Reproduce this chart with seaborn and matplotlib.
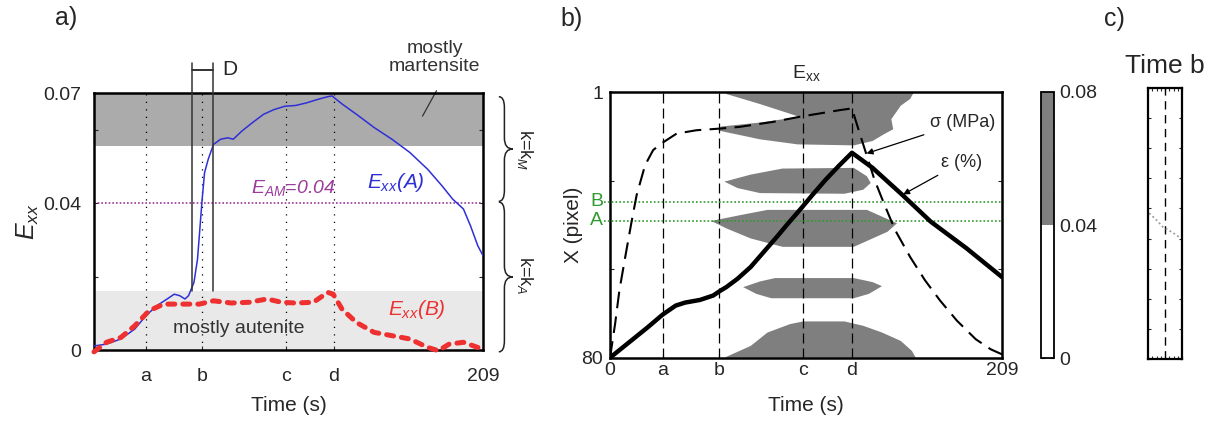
import numpy as np
import matplotlib
matplotlib.use("Agg")
import matplotlib.pyplot as plt
import seaborn as sns
from matplotlib.path import Path
from matplotlib.patches import PathPatch
from matplotlib.colors import ListedColormap, BoundaryNorm
from matplotlib.cm import ScalarMappable
from matplotlib.ticker import FixedLocator, MultipleLocator, NullFormatter

# ---------------- data ----------------
event_labels = ["a", "b", "c", "d"]
event_times = [28, 58, 103, 129]
t_end = 209

# panel a : E_xx at point A (blue) and B (red)
tA = [0, 6.7, 14.4, 21.9, 27.8, 33.6, 39.3, 43.1, 46, 48.9, 50.8, 53.7, 55.6, 57,
      58.1, 59.4, 61.4, 64.2, 68, 71.9, 74.8, 79.6, 85.3, 91.1, 96.8, 102.6, 108.3,
      114.1, 119.8, 125.6, 127.9, 133.3, 141, 150.5, 160.1, 169.7, 179.3, 187,
      192.7, 198.5, 202.3, 206.2, 209]
eA = [0.0011, 0.0016, 0.003, 0.0057, 0.0093, 0.012, 0.0139, 0.0152, 0.0148, 0.0139,
      0.0148, 0.0184, 0.0247, 0.0338, 0.041, 0.0483, 0.052, 0.056, 0.0574, 0.0578,
      0.0574, 0.0597, 0.062, 0.0642, 0.0655, 0.0664, 0.0666, 0.0673, 0.0682, 0.069,
      0.0692, 0.067, 0.0642, 0.0606, 0.0574, 0.0538, 0.0492, 0.0447, 0.0411, 0.0384,
      0.0338, 0.0284, 0.0257]
tB = [0, 6.7, 14.4, 21.9, 29.6, 37.4, 45.1, 56.6, 64.2, 73.8, 83.4, 93, 100.7, 108.3,
      117.9, 125.6, 128.5, 133.3, 141, 150.5, 160.1, 169.7, 179.3, 185, 190.8, 198.5,
      206.2, 209]
eB = [-0.0005, 0.0021, 0.0034, 0.0066, 0.0107, 0.0125, 0.0125, 0.0125, 0.0134, 0.0128,
      0.013, 0.0139, 0.013, 0.0128, 0.013, 0.0157, 0.0152, 0.0111, 0.0075, 0.0048,
      0.0039, 0.003, 0.0007, -0.0002, 0.0016, 0.0021, 0.0007, 0.0003]
E_AM = 0.04
martensite_band = (0.0555, 0.07)
austenite_band = (0.0, 0.016)
D_window = (52.5, 64.0)

# panel b : stress / strain curves (in row units) and thresholded E_xx map
eps_t = [0, 10, 20, 28, 35, 40, 48, 55, 59, 62, 68, 75, 82, 89, 95, 100, 108, 115,
         122, 129, 140, 156, 171, 190, 209]
eps_r = [80, 75.5, 71, 67.2, 64.5, 63.6, 62.8, 61.5, 60, 59, 56.5, 53, 48.5, 44, 40,
         36.8, 31.5, 27, 22.9, 19, 23.5, 31.6, 39.5, 47.4, 56]
sig_t = [0, 2.7, 5, 8, 11.5, 14.2, 18.7, 23, 27.5, 35.5, 46, 58.6, 69, 87, 101, 122.6,
         129, 133, 137, 141, 146, 152, 160, 168, 176, 185, 195, 203, 209]
sig_r = [80, 70, 60, 50.4, 39.5, 31.6, 22.7, 18.2, 16.2, 13.3, 12.3, 11.8, 11.3, 9.8,
         8.3, 6.3, 5.8, 13, 20, 27, 34, 42, 50, 57, 63, 69, 74.5, 77.5, 79]
row_B = 33.6
row_A = 39.3
band1_t = [62, 162, 160, 155, 150, 151, 146, 140, 130, 100, 80, 58, 59, 80, 101, 80, 62]
band1_r = [1, 1, 3, 5, 9, 12, 13.5, 15.5, 16.8, 16.5, 15, 12.4, 11.2, 10, 8.3, 4.5, 1.5]
band2_t = [61, 75, 92, 130, 137, 139, 135, 125, 80, 68]
band2_r = [27.6, 25.5, 23.7, 23.5, 26, 28, 30, 31.2, 31, 29.5]
band3_t = [54, 70, 84, 137, 145, 153, 148, 138, 130, 92, 75, 62]
band3_r = [39.3, 37.5, 36, 36, 38, 40, 42.5, 45, 47, 47, 44.5, 41.5]
band4_t = [71, 80, 88, 130, 140, 145, 138, 130, 86, 78]
band4_r = [59, 57.3, 56.3, 56.3, 57.5, 58.7, 61, 62.3, 62.3, 61]
band5_t = [61, 75, 84, 96, 103, 125, 135, 145, 155, 161, 163]
band5_r = [80, 76.5, 72.5, 70, 69.2, 69.2, 70.5, 72.5, 75, 78, 80]
cbar_bounds = [0, 0.04, 0.08]

# panel c : profile at time b
c_strain = [0.003, 0.02, 0.035, 0.042, 0.06, 0.077]
c_row = [37.5, 39.5, 41.5, 42.0, 43.3, 44.8]
c_threshold = 0.04

# ---------------- style ----------------
sns.set_theme(style="ticks")
plt.rcParams["font.family"] = ["Liberation Sans", "DejaVu Sans"]
plt.rcParams["mathtext.fontset"] = "custom"
plt.rcParams["mathtext.rm"] = "Liberation Sans"
plt.rcParams["mathtext.it"] = "Liberation Sans:italic"
plt.rcParams["axes.linewidth"] = 1.6
plt.rcParams["axes.edgecolor"] = "black"

W, H = 1216, 423
fig = plt.figure(figsize=(W / 100, H / 100), dpi=100)


def box(x0, y0, x1, y1):
    return [x0 / W, 1 - y1 / H, (x1 - x0) / W, (y1 - y0) / H]


axA = fig.add_axes(box(94, 93, 483, 350))
axB = fig.add_axes(box(610, 92.3, 1002, 357.7))
cax = fig.add_axes(box(1041, 92, 1054, 358))
axC = fig.add_axes(box(1148, 88, 1182, 359))

gray_dark = "#ababab"
gray_light = "#e9e9e9"
map_gray = "#7f7f7f"
green = "#2f9a2f"

# ---------------- panel a ----------------
axA.axhspan(*martensite_band, color=gray_dark, lw=0, zorder=0)
axA.axhspan(*austenite_band, color=gray_light, lw=0, zorder=0)
for t in event_times:
    axA.axvline(t, color="black", lw=0.9, ls=(0, (1, 5)), zorder=1)
axA.axhline(E_AM, color="#9b3b9b", lw=1.2, ls=(0, (1, 1.2)), zorder=1)
sns.lineplot(x=tA, y=eA, ax=axA, color="#2f2fd8", lw=1.1, sort=False, estimator=None, zorder=3)
sns.lineplot(x=tB, y=eB, ax=axA, color="#ee3030", lw=3.6, sort=False, estimator=None,
             linestyle=(0, (1.4, 1.6)), dash_capstyle="round", clip_on=False, zorder=4)
axA.set_xlim(0, t_end)
axA.set_ylim(0, 0.07)

# D window marker
for t in D_window:
    axA.plot([t, t], [austenite_band[1], 0.0781], color="#333333", lw=1.1, clip_on=False, zorder=5)
axA.plot(list(D_window), [0.0762, 0.0762], color="#222222", lw=1.3, clip_on=False)
axA.text(73, 0.0763, "D", fontsize=15, ha="center", va="center")

axA.set_xticks(event_times + [t_end])
axA.set_xticklabels(event_labels + [str(t_end)])
axA.set_yticks([0, 0.04, 0.07])
axA.set_yticklabels(["0", "0.04", "0.07"])
axA.yaxis.set_minor_locator(FixedLocator([0.02, 0.06]))
axA.tick_params(axis="both", which="both", direction="in", labelsize=14, length=3, width=0.8,
                top=False, right=True)
axA.tick_params(axis="x", pad=13)
axA.tick_params(axis="y", pad=9)
axA.set_xlabel("Time (s)", fontsize=15)
axA.xaxis.set_label_coords(0.5, -0.18)
axA.set_ylabel("$E_{xx}$", fontsize=18)
axA.yaxis.set_label_coords(-0.135, 0.5)
for s in axA.spines.values():
    s.set_linewidth(1.8)

axA.text(162, 0.0455, "$E_{xx}$(A)", color="#2f2fd8", fontsize=15, style="italic",
         ha="center", va="center")
axA.text(173.5, 0.0111, "$E_{xx}$(B)", color="#ee3030", fontsize=15, style="italic",
         ha="center", va="center")
axA.text(107, 0.0442, "$E_{AM}$=0.04", color="#9b3b9b", fontsize=14, style="italic",
         ha="center", va="center")
axA.text(78, 0.0058, "mostly autenite", color="#333333", fontsize=14, ha="center", va="center")
axA.text(183, 0.0797, "mostly\nmartensite", color="#333333", fontsize=14, ha="center",
         va="center", linespacing=1.05)
axA.plot([176.5, 184], [0.0637, 0.0706], color="#333333", lw=0.9, clip_on=False)


def brace(ax, x0, xm, xt, y0, y1, h):
    ym = 0.5 * (y0 + y1)
    verts = [(x0, y1), (xm, y1), (xm, y1 - h), (xm, ym + h), (xm, ym), (xt, ym),
             (xm, ym), (xm, ym - h), (xm, y0 + h), (xm, y0), (x0, y0)]
    codes = [Path.MOVETO, Path.CURVE3, Path.CURVE3, Path.LINETO, Path.CURVE3, Path.CURVE3,
             Path.CURVE3, Path.CURVE3, Path.LINETO, Path.CURVE3, Path.CURVE3]
    ax.add_patch(PathPatch(Path(verts, codes), fill=False, lw=1.1, color="#222222",
                           clip_on=False))


brace(axA, 217.5, 220.5, 225, 0.0405, 0.069, 0.003)
brace(axA, 217.5, 220.5, 225, -0.0005, 0.0403, 0.003)
axA.text(231.5, 0.0547, "k=k$_M$", rotation=-90, fontsize=13, ha="center", va="center")
axA.text(231.5, 0.0205, "k=k$_A$", rotation=-90, fontsize=13, ha="center", va="center")

# ---------------- panel b ----------------
for bt, br in [(band1_t, band1_r), (band2_t, band2_r), (band3_t, band3_r),
               (band4_t, band4_r), (band5_t, band5_r)]:
    axB.fill(bt, br, color=map_gray, lw=0, zorder=1)
for t in event_times:
    axB.axvline(t, color="black", lw=0.9, ls=(0, (8, 4)), zorder=2)
for r in (row_B, row_A):
    axB.plot([-3, t_end], [r, r], color=green, lw=1.2, ls=(0, (1, 1.3)), clip_on=False, zorder=3)
axB.text(-7, row_B, "B", color=green, fontsize=14, ha="center", va="center")
axB.text(-7, row_A, "A", color=green, fontsize=14, ha="center", va="center")
sns.lineplot(x=sig_t, y=sig_r, ax=axB, color="black", lw=1.5, sort=False, estimator=None,
             linestyle=(0, (8, 4)), zorder=4)
sns.lineplot(x=eps_t, y=eps_r, ax=axB, color="black", lw=3.2, sort=False, estimator=None,
             zorder=5)
axB.set_xlim(0, t_end)
axB.set_ylim(80, 1)
axB.set_xticks([0] + event_times + [t_end])
axB.set_xticklabels(["0"] + event_labels + [str(t_end)])
axB.set_yticks([1, 80])
axB.set_yticklabels(["1", "80"])
axB.yaxis.set_minor_locator(FixedLocator([27.3, 53.7]))
axB.tick_params(axis="both", which="both", direction="in", labelsize=14, length=3, width=0.8,
                right=True)
axB.tick_params(axis="x", pad=3)
axB.tick_params(axis="y", pad=5)
axB.set_xlabel("Time (s)", fontsize=15)
axB.xaxis.set_label_coords(0.5, -0.145)
axB.set_ylabel("X (pixel)", fontsize=15)
axB.yaxis.set_label_coords(-0.07, 0.5)
axB.set_title(r"$\mathrm{E}_{\mathrm{xx}}$", fontsize=14, pad=10)
for s in axB.spines.values():
    s.set_linewidth(1.8)

axB.annotate("σ (MPa)", xy=(136.8, 19.2), xytext=(170.5, 9.9), fontsize=13, ha="left",
             va="center", arrowprops=dict(arrowstyle="-|>", lw=0.9, color="black",
                                          mutation_scale=9, shrinkA=2, shrinkB=0))
axB.annotate("ε (%)", xy=(156.3, 31.4), xytext=(176.5, 21.8), fontsize=13, ha="left",
             va="center", arrowprops=dict(arrowstyle="-|>", lw=0.9, color="black",
                                          mutation_scale=9, shrinkA=2, shrinkB=0))

# ---------------- colour bar ----------------
sm = ScalarMappable(norm=BoundaryNorm(cbar_bounds, 2), cmap=ListedColormap(["white", map_gray]))
cb = fig.colorbar(sm, cax=cax, spacing="proportional", ticks=cbar_bounds)
cb.ax.set_yticklabels(["0", "0.04", "0.08"])
cb.outline.set_linewidth(1.3)
cb.ax.yaxis.set_minor_locator(MultipleLocator(0.01))
cb.ax.tick_params(which="both", direction="in", left=True, right=True, length=3, width=0.8,
                  labelsize=14, pad=4)

# ---------------- panel c ----------------
axC.axvline(c_threshold, color="black", lw=1.0, ls=(0, (6, 4)))
sns.lineplot(x=c_strain, y=c_row, ax=axC, color="#9a9a9a", lw=1.3, sort=False, estimator=None,
             linestyle=(0, (1, 1.5)))
axC.set_xlim(0, 0.08)
axC.set_ylim(80, 1)
axC.set_xticks(np.linspace(0, 0.08, 9))
axC.set_yticks(np.linspace(1, 80, 10))
axC.xaxis.set_major_formatter(NullFormatter())
axC.yaxis.set_major_formatter(NullFormatter())
axC.tick_params(which="both", direction="in", length=2.5, width=0.8, top=True, right=True,
                labelbottom=False, labelleft=False)
axC.set_title("Time b", fontsize=19, pad=11)
for s in axC.spines.values():
    s.set_linewidth(1.6)

# ---------------- panel letters ----------------
fig.text(66 / W, 1 - 18 / H, "a)", fontsize=18, ha="center", va="center")
fig.text(572 / W, 1 - 19 / H, "b)", fontsize=18, ha="center", va="center")
fig.text(1114 / W, 1 - 19 / H, "c)", fontsize=18, ha="center", va="center")

fig.savefig("out.png", dpi=100)
